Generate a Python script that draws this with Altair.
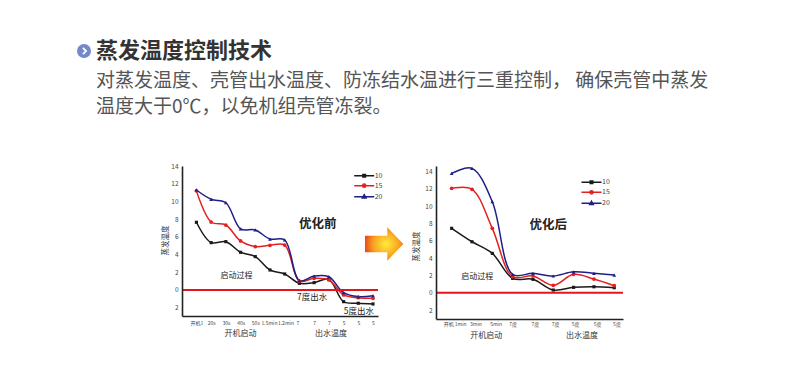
import altair as alt
import pandas as pd

# ---------------- text ----------------
title_text = "蒸发温度控制技术"
sub_line1 = "对蒸发温度、壳管出水温度、防冻结水温进行三重控制，   确保壳管中蒸发"
sub_line2 = "温度大于0℃，以免机组壳管冻裂。"

# ---------------- series ----------------
series_names = ["10", "15", "20"]
series_colors = ["#1a1a1a", "#e3201f", "#1f1f86"]
series_shapes = ["square", "circle", "triangle-up"]
series_sizes = [10, 14, 14]

# left panel (优化前)
left_tick_pos = [0, 1, 2, 3, 4, 4.93, 6.05, 6.86, 8, 9, 10, 11, 12]
left_labels = ["开机1", "20s", "30s", "40s", "50s", "1.5min", "1.2min", "7", "7", "7", "5", "5", "5"]
left_10 = [7.65, 5.35, 5.46, 4.26, 3.77, 2.26, 1.81, 0.75, 0.83, 1.2, -1.32, -1.5, -1.58]
left_15 = [11.2, 7.68, 7.34, 5.54, 4.9, 5.05, 5.08, 1.0, 1.32, 1.13, -0.56, -0.87, -0.94]
left_20 = [11.3, 10.25, 9.86, 6.9, 6.78, 5.76, 5.65, 1.05, 1.58, 1.5, -0.3, -0.75, -0.64]

# right panel (优化后)
right_tick_pos = [-0.17, 0.42, 1.17, 2.16, 3, 4.1, 5.09, 6.07, 7.16, 8.11]
right_labels = ["开机", "1min", "3min", "5min", "7度", "7度", "7度", "5度", "5度", "5度"]
right_10 = [7.43, 5.88, 4.54, 1.66, 1.55, 0.31, 0.62, 0.69, 0.58]
right_15 = [12.04, 11.93, 7.43, 1.85, 1.93, 0.85, 2.12, 1.58, 0.81]
right_20 = [13.77, 14.35, 10.5, 2.12, 2.24, 1.93, 2.42, 2.24, 2.04]

y_ticks = [-2, 0, 2, 4, 6, 8, 10, 12, 14]

FONT = "Noto Sans CJK SC"

legend_paths = [
    "M-10,0H10M-1.3,-1.3H1.3V1.3H-1.3Z",
    "M-10,0H10M-1.6,0A1.6,1.6 0 1,0 1.6,0A1.6,1.6 0 1,0 -1.6,0",
    "M-10,0H10M0,-2L1.8,1.2H-1.8Z",
]
arrow_path = "M-19,-8.3H3.3V-16.7L19.3,0L3.3,16.7V8.3H-19Z"
chevron_path = "M-1.6,-3.2L1.6,0L-1.6,3.2"


def long_df(series_values):
    rows = []
    for name, vals in zip(series_names, series_values):
        for i, v in enumerate(vals):
            rows.append({"idx": i, "value": v, "series": name})
    return pd.DataFrame(rows)


one = pd.DataFrame({"k": [0]})
cscale = alt.Scale(domain=series_names, range=series_colors)


def panel(df, xdom, ydom, width, height, xaxis, ytitle_xy, annotations, groups,
          legend_xy, label_offset, pre_layers, extra_layers):
    xs = alt.Scale(domain=xdom, nice=False, zero=False)
    ys = alt.Scale(domain=ydom, nice=False, zero=False)
    yaxis = alt.Axis(values=y_ticks, labelExpr="'' + abs(datum.value)", title="蒸发温度",
                     titleFontSize=7.5, titleFontWeight="normal", titleColor="#333",
                     titleAngle=270, titleX=ytitle_xy[0], titleY=ytitle_xy[1],
                     titleAlign="center", titleBaseline="middle",
                     ticks=False, domainColor="#222", domainWidth=1.6,
                     labelFontSize=6.5, labelColor="#444", labelPadding=4,
                     labelFlush=False, labelOverlap=False, grid=False, zindex=1)
    X = lambda: alt.X("idx:Q", scale=xs, axis=xaxis)
    Y = lambda: alt.Y("value:Q", scale=ys, axis=yaxis)
    layers = list(pre_layers)
    for name, col in zip(series_names, series_colors):
        layers.append(alt.Chart(df).transform_filter(alt.datum.series == name).mark_line(
            interpolate="catmull-rom", strokeWidth=1.5, color=col).encode(x=X(), y=Y()))
    for name, col, shp, sz in zip(series_names, series_colors, series_shapes, series_sizes):
        layers.append(alt.Chart(df).transform_filter(alt.datum.series == name).mark_point(
            shape=shp, filled=True, size=sz, opacity=1, color=col).encode(x=X(), y=Y()))
    layers.append(alt.Chart(one).mark_rule(color="#e8141b", strokeWidth=2).encode(
        y=alt.YDatum(0, scale=ys, axis=yaxis)))
    # legend carrier (no visible marks: its data is filtered out)
    lg = alt.Legend(title=None, orient="none", legendX=legend_xy[0], legendY=legend_xy[1],
                    padding=0, symbolSize=4, symbolStrokeWidth=1.5, labelFontSize=7,
                    labelColor="#444", labelOffset=label_offset, rowPadding=0)
    layers.append(alt.Chart(df).transform_filter("false").mark_point(
        filled=False, size=4, opacity=1, strokeWidth=1.5).encode(
        x=X(), y=Y(),
        color=alt.Color("series:N", scale=cscale, legend=lg),
        shape=alt.Shape("series:N", scale=alt.Scale(domain=series_names, range=legend_paths), legend=lg),
    ))
    for txt, ax, ay, fs, fw in annotations:
        layers.append(alt.Chart(one).mark_text(fontSize=fs, fontWeight=fw, color="#222",
                                               baseline="middle", align="center").encode(
            x=alt.XDatum(ax, scale=xs, axis=xaxis), y=alt.YDatum(ay, scale=ys, axis=yaxis),
            text=alt.value(txt)))
    for txt, ax, py in groups:
        layers.append(alt.Chart(one).mark_text(fontSize=8, color="#333",
                                               baseline="middle", align="center").encode(
            x=alt.XDatum(ax, scale=xs, axis=xaxis), y=alt.value(py), text=alt.value(txt)))
    layers.extend(extra_layers)
    return alt.layer(*layers).properties(width=width, height=height)


def label_expr_lookup(labels, positions):
    return ("[" + ",".join("'%s'" % s for s in labels) + "][indexof(["
            + ",".join(str(p) for p in positions) + "], datum.value)]")


common_x = dict(title=None, ticks=False, domainColor="#222", domainWidth=1.6,
                labelFontSize=5, labelColor="#444", labelFlush=False,
                labelOverlap=False, labelAngle=0, grid=False, zindex=1)

left_xaxis = alt.Axis(values=left_tick_pos,
                      labelExpr=label_expr_lookup(left_labels, left_tick_pos), labelPadding=4, **common_x)
right_xaxis = alt.Axis(values=right_tick_pos,
                       labelExpr=label_expr_lookup(right_labels, right_tick_pos),
                       labelPadding=2, **common_x)

# canvas frame (fixes the overall bounds), drawn first in the left panel
frame_layers = [
    alt.Chart(one).mark_rect(color="white").encode(
        x=alt.value(-182), x2=alt.value(608), y=alt.value(-166), y2=alt.value(211)),
]

# header + arrow, drawn within the left panel's coordinate frame
header_layers = [
    alt.Chart(one).mark_point(shape="circle", filled=True, size=196, opacity=1,
                              color="#7489c9").encode(x=alt.value(-98), y=alt.value(-115)),
    alt.Chart(one).mark_point(shape=chevron_path, filled=False, size=4, opacity=1,
                              color="white", strokeWidth=1.8).encode(x=alt.value(-97.5), y=alt.value(-115)),
    alt.Chart(one).mark_text(align="left", baseline="middle", fontSize=22, fontWeight="bold",
                             color="#333").encode(x=alt.value(-86), y=alt.value(-115), text=alt.value(title_text)),
    alt.Chart(one).mark_text(align="left", baseline="middle", fontSize=19,
                             color="#555").encode(x=alt.value(-86), y=alt.value(-85), text=alt.value(sub_line1)),
    alt.Chart(one).mark_text(align="left", baseline="middle", fontSize=19,
                             color="#555").encode(x=alt.value(-86), y=alt.value(-59), text=alt.value(sub_line2)),
    alt.Chart(one).mark_point(shape=arrow_path, size=4, filled=True, opacity=1, strokeWidth=0,
                              fill=alt.RadialGradient(
                                  gradient="radial",
                                  stops=[alt.GradientStop(offset=0, color="#ffec3c"),
                                         alt.GradientStop(offset=0.55, color="#f8a21f"),
                                         alt.GradientStop(offset=1, color="#e6301d")],
                                  x1=0.55, y1=0.5, r1=0, x2=0.55, y2=0.5, r2=0.62)
                              ).encode(x=alt.value(202), y=alt.value(78)),
]

left = panel(
    long_df([left_10, left_15, left_20]), [-0.98, 12.34], [-2.94, 14.01], 196, 150,
    left_xaxis, (-17, 74),
    [("启动过程", 2.72, 1.62, 8, "normal"), ("优化前", 8.24, 7.46, 12.5, "bold"),
     ("7度出水", 7.87, -0.76, 8.5, "normal"), ("5度出水", 11.04, -2.4, 8.5, "normal")],
    [("开机启动", 3.0, 168), ("出水温度", 9.14, 168)],
    (178.7, 6.2), 7, frame_layers, header_layers,
)

right = panel(
    long_df([right_10, right_15, right_20]), [-0.77, 8.43], [-3.03, 14.62], 187, 153,
    right_xaxis, (-20, 80),
    [("启动过程", 1.26, 1.85, 8, "normal"), ("优化后", 4.75, 7.8, 12.5, "bold")],
    [("开机启动", 1.7, 170), ("出水温度", 6.41, 170)],
    (152, 12.8), 7, [], [],
)

chart = alt.hconcat(left, right, spacing=58, bounds="flush").resolve_scale(
    color="independent", shape="independent"
).resolve_legend(
    color="independent", shape="independent"
).properties(
    padding=0, background="white"
).configure(font=FONT).configure_view(strokeWidth=0)

chart.save("out.html", embed_options={"renderer": "svg", "actions": False})
